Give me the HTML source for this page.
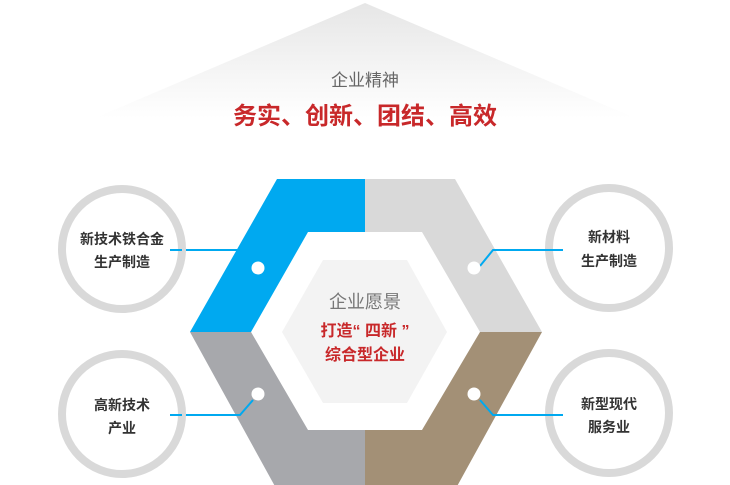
<!DOCTYPE html>
<html><head><meta charset="utf-8"><style>
body{margin:0;background:#fff;}
svg{display:block}
</style></head><body>
<svg width="730" height="485" viewBox="0 0 730 485" xmlns="http://www.w3.org/2000/svg" font-family="'Liberation Sans','Noto Sans CJK SC',sans-serif">
<defs>
<linearGradient id="g" x1="0" y1="0" x2="0" y2="1">
<stop offset="0" stop-color="#e6e6e6"/><stop offset="1" stop-color="#fff"/>
</linearGradient>
</defs>
<polygon points="365,3 95,118 635,118" fill="url(#g)"/>
<text x="365" y="86" text-anchor="middle" font-size="17" fill="#666">企业精神</text>
<text x="365" y="124" text-anchor="middle" font-size="24" font-weight="bold" fill="#c8282a">务实、创新、团结、高效</text>

<polygon points="277,179 365,179 365,232 308,232 251,332 190,332" fill="#00a9f0"/>
<polygon points="365,179 455,179 542,332 480,332 422,232 365,232" fill="#d9d9d9"/>
<polygon points="190,332 251,332 308,430 365,430 365,490 277,490" fill="#a7a8ac"/>
<polygon points="480,332 542,332 455,490 365,490 365,430 422,430" fill="#a39076"/>
<polygon points="323,260 407,260 447,332 407,403 323,403 282,332" fill="#f3f3f3"/>
<text x="365" y="308" text-anchor="middle" font-size="18" fill="#777">企业愿景</text>
<text x="365" y="336" text-anchor="middle" font-size="16" font-weight="bold" fill="#c8282a">打造“ 四新 ”</text>
<text x="365" y="360" text-anchor="middle" font-size="16" font-weight="bold" fill="#c8282a">综合型企业</text>

<g stroke="#00a9f0" stroke-width="2" fill="none">
<line x1="170" y1="250" x2="238" y2="250"/>
<polyline points="170,415 240,415 253,400"/>
<polyline points="480,266 493,250 563,250"/>
<polyline points="480,400 493,415 563,415"/>
</g>
<g fill="#fff">
<circle cx="258" cy="268" r="6.5"/><circle cx="474" cy="268" r="6.5"/>
<circle cx="258" cy="394" r="6.5"/><circle cx="474" cy="394" r="6.5"/>
</g>

<g fill="#fff" stroke="#d9d9d9" stroke-width="8">
<circle cx="122" cy="249" r="60"/>
<circle cx="122" cy="414" r="60"/>
<circle cx="609" cy="248" r="60"/>
<circle cx="609" cy="413" r="60"/>
</g>
<line x1="170" y1="250" x2="182" y2="250" stroke="#00a9f0" stroke-width="2"/>
<line x1="170" y1="415" x2="182" y2="415" stroke="#00a9f0" stroke-width="2"/>
<line x1="545" y1="250" x2="563" y2="250" stroke="#00a9f0" stroke-width="2"/>
<line x1="545" y1="415" x2="563" y2="415" stroke="#00a9f0" stroke-width="2"/>
<g font-size="14" font-weight="bold" fill="#333" text-anchor="middle">
<text x="122" y="244">新技术铁合金</text>
<text x="122" y="267">生产制造</text>
<text x="122" y="410">高新技术</text>
<text x="122" y="433">产业</text>
<text x="609" y="242">新材料</text>
<text x="609" y="266">生产制造</text>
<text x="609" y="409">新型现代</text>
<text x="609" y="432">服务业</text>
</g>
</svg>
</body></html>
